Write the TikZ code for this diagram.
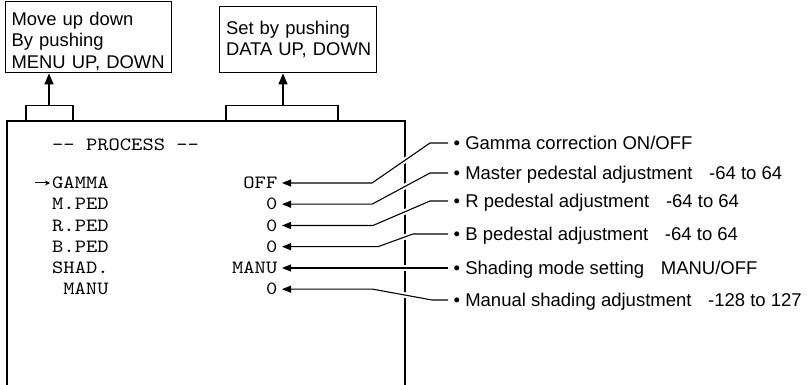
\documentclass[tikz,border=0pt]{standalone}
\usepackage{fontspec}
\setmainfont{Liberation Sans}
\newfontfamily\scrfont{lmmono10-regular}[Extension=.otf,FakeStretch=1.15]
\usetikzlibrary{arrows.meta}
\tikzset{
  topbox/.style={draw,line width=1.4pt,inner sep=0pt,anchor=north west},
  toptext/.style={font=\fontsize{18.4}{21.3}\selectfont,align=left,text width=160pt,inner sep=0pt,anchor=base west},
  scr/.style={font=\scrfont\fontsize{18.7}{20}\selectfont,inner sep=0pt,text height=11.4pt,text depth=0pt,anchor=west},
  val/.style={font=\scrfont\fontsize{18.7}{20}\selectfont,inner xsep=4.5pt,inner ysep=0pt,text height=11.4pt,text depth=0pt,anchor=east},
  lbl/.style={font=\fontsize{18.5}{20}\selectfont,inner xsep=5.5pt,inner ysep=0pt,text height=13.2pt,text depth=0pt,anchor=west},
  leader/.style={line width=1.1pt,-{Triangle[length=9pt,width=7pt]},preaction={draw=white,line width=5.5pt,arrows=-}},
  mainframe/.style={line width=2.5pt},
  bracket/.style={line width=1.3pt},
  uparrow/.style={line width=1.3pt,-{Triangle[length=11pt,width=9pt]}},
  cursor/.style={line width=1pt,-{Stealth[length=5pt,width=5pt]}}
}
\begin{document}
\begin{tikzpicture}[x=1pt,y=-1pt]
\useasboundingbox (0,0) rectangle (807,385);
% top boxes
\node[topbox,minimum width=166pt,minimum height=71pt] (mbox) at (5,1) {};
\node[toptext] (mtext) at (11.4,25.7) {Move up down\\By pushing\\MENU UP, DOWN};
\node[topbox,minimum width=157pt,minimum height=66pt] (dbox) at (219,6) {};
\node[toptext] (dtext) at (225.8,34.7) {Set by pushing\\DATA UP, DOWN};
% main screen frame
\draw[mainframe] (7,385) -- (7,121) -- (405,121) -- (405,385);
% brackets and arrows
\draw[bracket] (26,121) -- (26,105.5) -- (73,105.5) -- (73,121);
\coordinate (b1) at (49,105.5);
\draw[uparrow] (b1) -- (b1 |- mbox.south);
\draw[bracket] (226,121) -- (226,105.5) -- (338,105.5) -- (338,121);
\coordinate (b2) at (283,105.5);
\draw[uparrow] (b2) -- (b2 |- dbox.south);
% screen text
\node[scr] (title) at (52,145) {-\kern0pt- PROCESS -\kern0pt-};
\node[scr] (n1) at (52,183) {GAMMA};
\node[scr] (n2) at (52,204.2) {M.PED};
\node[scr] (n3) at (52,225.5) {R.PED};
\node[scr] (n4) at (52,246.7) {B.PED};
\node[scr] (n5) at (52,268) {SHAD.};
\node[scr] (n6) at (63.2,289.2) {MANU};
\node[val] (v1) at (282,183) {OFF};
\node[val] (v2) at (282,204.2) {0};
\node[val] (v3) at (282,225.5) {0};
\node[val] (v4) at (282,246.7) {0};
\node[val] (v5) at (282,268) {MANU};
\node[val] (v6) at (282,289.2) {0};
\coordinate (cur) at ([xshift=-17pt]n1.west);
\draw[cursor] (cur) -- ([xshift=-2pt]n1.west);
% labels
\node[lbl] (l1) at (448,143) {• Gamma correction ON/OFF};
\node[lbl] (l2) at (448,173) {• Master pedestal adjustment\hspace{0.9em}-64 to 64};
\node[lbl] (l3) at (448,201) {• R pedestal adjustment\hspace{0.9em}-64 to 64};
\node[lbl] (l4) at (448,234) {• B pedestal adjustment\hspace{0.9em}-64 to 64};
\node[lbl] (l5) at (448,268) {• Shading mode setting\hspace{0.9em}MANU/OFF};
\node[lbl] (l6) at (448,300) {• Manual shading adjustment\hspace{0.9em}-128 to 127};
% leaders
\draw[leader] (l1.west) -- ++(-18,0) -- ([xshift=90pt]v1.east) -- (v1.east);
\draw[leader] (l2.west) -- ++(-18,0) -- ([xshift=90pt]v2.east) -- (v2.east);
\draw[leader] (l3.west) -- ++(-18,0) -- ([xshift=91pt]v3.east) -- (v3.east);
\draw[leader] (l4.west) -- ++(-35,0) -- ([xshift=96pt]v4.east) -- (v4.east);
\draw[leader] (l5.west) -- (v5.east);
\draw[leader] (l6.west) -- ++(-16,0) -- ([xshift=91pt]v6.east) -- (v6.east);
\end{tikzpicture}
\end{document}
